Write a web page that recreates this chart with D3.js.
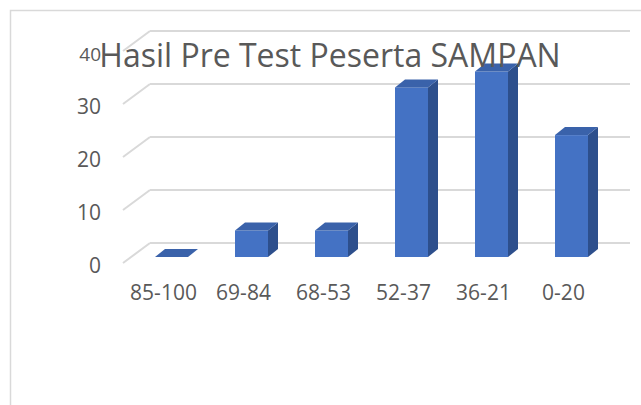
<!DOCTYPE html>
<html>
<head>
<meta charset="utf-8">
<script src="https://cdn.jsdelivr.net/npm/d3@7"></script>
<style>
  body { margin: 0; background: #fff; }
  text { font-family: "Open Sans", sans-serif; fill: #595959; }
</style>
</head>
<body>
<script>
// data
var categories = ["85-100", "69-84", "68-53", "52-37", "36-21", "0-20"];
var values = [0, 5, 5, 32, 35, 23];
var yTicks = [0, 10, 20, 30, 40];
var title = "Hasil Pre Test Peserta SAMPAN";

var w = 641,
    h = 405,
    depthX = 10,   // bar depth offset
    depthY = -8,
    floorX = -27,  // floor front edge offset from back wall
    floorY = 20;

var svg = d3.select("body").append("svg")
    .attr("width", w)
    .attr("height", h);

// outer chart border (runs off the right / bottom edge)
svg.append("rect")
    .attr("x", 10.5).attr("y", 10.5)
    .attr("width", 660).attr("height", 420)
    .attr("fill", "none")
    .attr("stroke", "#d9d9d9")
    .attr("stroke-width", 1.5);

var yBack = d3.scaleLinear().domain([0, 40]).range([243, 31]);
var yFront = d3.scaleLinear().domain([0, 40]).range([257, 45]);

var x = d3.scaleBand()
    .domain(categories)
    .range([115, 628])
    .paddingInner(0.5875)
    .paddingOuter(0.5);

// back wall gridlines + floor diagonals
var grid = svg.append("g");
grid.selectAll("line.back")
    .data(yTicks)
  .enter().append("line")
    .attr("class", "back")
    .attr("x1", 150).attr("x2", 630)
    .attr("y1", function(d) { return yBack(d); })
    .attr("y2", function(d) { return yBack(d); })
    .style("stroke", "#d9d9d9").style("stroke-width", 2);
grid.selectAll("line.side")
    .data(yTicks)
  .enter().append("line")
    .attr("class", "side")
    .attr("x1", 150).attr("x2", 150 + floorX)
    .attr("y1", function(d) { return yBack(d); })
    .attr("y2", function(d) { return yBack(d) + floorY; })
    .style("stroke", "#d9d9d9").style("stroke-width", 2);

// y axis labels
var yAxis = svg.append("g")
    .attr("transform", "translate(104,23)")
    .call(d3.axisLeft(yBack).tickValues(yTicks).tickSize(0).tickPadding(3));
yAxis.select(".domain").remove();
yAxis.selectAll("text")
    .style("font-size", function(d) { return d == 40 ? "19px" : "21px"; })
    .attr("fill", "#595959");

// x axis labels
var xAxis = svg.append("g")
    .attr("transform", "translate(-8,285)")
    .call(d3.axisBottom(x).tickSize(0).tickPadding(0));
xAxis.select(".domain").remove();
xAxis.selectAll("text")
    .style("font-size", "21px")
    .attr("fill", "#595959");

// 3D bars
var bars = svg.selectAll("g.bar")
    .data(values)
  .enter().append("g")
    .attr("class", "bar");

function bx(d, i) { return x(categories[i]); }

bars.append("rect")
    .attr("x", bx)
    .attr("y", function(d) { return yFront(d); })
    .attr("width", x.bandwidth())
    .attr("height", function(d) { return yFront(0) - yFront(d); })
    .attr("fill", "#4472c4");

bars.append("path")
    .attr("d", function(d, i) {
        var x0 = bx(d, i) + x.bandwidth(), t = yFront(d), b = yFront(0);
        return "M" + x0 + "," + t + "L" + (x0 + depthX) + "," + (t + depthY) +
               "L" + (x0 + depthX) + "," + (b + depthY) + "L" + x0 + "," + b + "Z";
    })
    .attr("fill", "#2d4f8c");

bars.append("path")
    .attr("d", function(d, i) {
        var x0 = bx(d, i), x1 = x0 + x.bandwidth(), t = yFront(d);
        return "M" + x0 + "," + t + "L" + (x0 + depthX) + "," + (t + depthY) +
               "L" + (x1 + depthX) + "," + (t + depthY) + "L" + x1 + "," + t + "Z";
    })
    .attr("fill", "#3a62aa");

// title (drawn over the top gridline like the original)
svg.append("text")
    .attr("x", 330)
    .attr("y", 67)
    .attr("text-anchor", "middle")
    .style("font-size", "32px")
    .text(title);
</script>
</body>
</html>
